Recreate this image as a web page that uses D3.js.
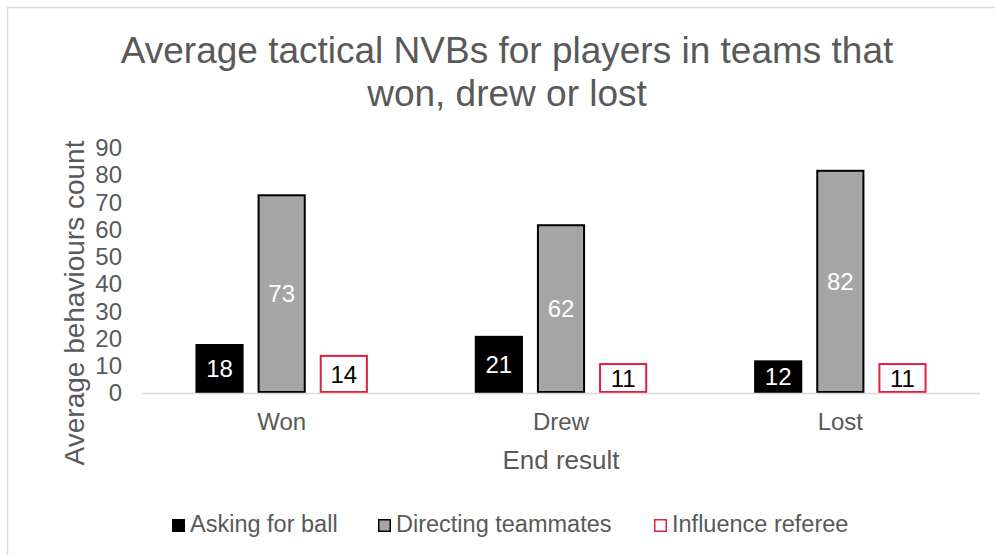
<!DOCTYPE html>
<html>
<head>
<meta charset="utf-8">
<script src="https://cdn.jsdelivr.net/npm/d3@7"></script>
<style>
  html, body { margin: 0; padding: 0; background: #fff; }
  svg { display: block; font-family: "Liberation Sans", Arial, sans-serif; }
</style>
</head>
<body>
<svg id="chart" width="995" height="555"></svg>
<script>
// Categories and series
const categories = ["Won", "Drew", "Lost"];
const seriesNames = ["Asking for ball", "Directing teammates", "Influence referee"];
const askingForBall = [18, 21, 12];
const directingTeammates = [73, 62, 82];
const influenceReferee = [14, 11, 11];
const yTicks = [0, 10, 20, 30, 40, 50, 60, 70, 80, 90];

const seriesValues = [askingForBall, directingTeammates, influenceReferee];
const seriesStyle = [
  { fill: "#000000", stroke: "#000000", label: "#ffffff", sw: 0 },
  { fill: "#a5a5a5", stroke: "#000000", label: "#ffffff", sw: 2 },
  { fill: "#ffffff", stroke: "#e0203f", label: "#000000", sw: 2 }
];

const svg = d3.select("#chart");
const textColor = "#595959";
const FONT = "Liberation Sans, Arial, sans-serif";

// chart frame
svg.append("rect")
  .attr("x", 7.5).attr("y", 7.5)
  .attr("width", 1000).attr("height", 560)
  .attr("fill", "#fff").attr("stroke", "#d9d9d9").attr("stroke-width", 1.5);

const plot = { left: 142, right: 980, top: 148, bottom: 393 };

const x0 = d3.scaleBand().domain(categories).range([plot.left, plot.right]).paddingInner(0).paddingOuter(0);
const x1 = d3.scaleBand().domain(d3.range(seriesNames.length))
  .range([0, x0.bandwidth()]).paddingInner(0.225).paddingOuter(0.86);
const y = d3.scaleLinear().domain([0, 90]).range([plot.bottom, plot.top]);

// title
const title = svg.append("text")
  .attr("text-anchor", "middle").attr("fill", textColor)
  .attr("font-size", 37);
title.append("tspan").attr("x", 507).attr("y", 63).text("Average tactical NVBs for players in teams that");
title.append("tspan").attr("x", 507).attr("y", 106).text("won, drew or lost");

// y axis (labels only)
const yAxis = d3.axisLeft(y).tickValues(yTicks).tickSize(0).tickPadding(20);
const yg = svg.append("g").attr("transform", `translate(${plot.left},0)`).call(yAxis);
yg.select(".domain").remove();
yg.selectAll("text").attr("fill", textColor).attr("font-size", 24).attr("font-family", FONT);

// bars
const groups = svg.append("g").selectAll("g")
  .data(categories)
  .join("g")
  .attr("transform", d => `translate(${x0(d)},0)`);

groups.each(function(cat, ci) {
  const g = d3.select(this);
  seriesValues.forEach((vals, si) => {
    const st = seriesStyle[si];
    const v = vals[ci];
    const inset = st.sw / 2;
    g.append("rect")
      .attr("x", x1(si) + inset)
      .attr("y", y(v) + inset)
      .attr("width", x1.bandwidth() - st.sw)
      .attr("height", y(0) - y(v) - st.sw)
      .attr("fill", st.fill)
      .attr("stroke", st.sw ? st.stroke : "none")
      .attr("stroke-width", st.sw);
    g.append("text")
      .attr("x", x1(si) + x1.bandwidth() / 2)
      .attr("y", (y(v) + y(0)) / 2)
      .attr("dy", "0.36em")
      .attr("text-anchor", "middle")
      .attr("font-size", 24)
      .attr("fill", st.label)
      .text(v);
  });
});

// baseline
svg.append("line")
  .attr("x1", plot.left).attr("x2", plot.right)
  .attr("y1", y(0) + 0.5).attr("y2", y(0) + 0.5)
  .attr("stroke", "#d9d9d9").attr("stroke-width", 1.5);

// x axis labels
const xAxis = d3.axisBottom(x0).tickSize(0).tickPadding(20);
const xg = svg.append("g").attr("transform", `translate(0,${plot.bottom})`).call(xAxis);
xg.select(".domain").remove();
xg.selectAll("text").attr("fill", textColor).attr("font-size", 24).attr("font-family", FONT);

// axis titles
svg.append("text")
  .attr("x", (plot.left + plot.right) / 2).attr("y", 469)
  .attr("text-anchor", "middle").attr("fill", textColor).attr("font-size", 26)
  .text("End result");

svg.append("text")
  .attr("transform", "translate(84,303) rotate(-90)")
  .attr("text-anchor", "middle").attr("fill", textColor).attr("font-size", 28)
  .text("Average behaviours count");

// legend
const legendX = [172, 378, 654];
const legend = svg.append("g");
seriesNames.forEach((name, i) => {
  const st = seriesStyle[i];
  const sw = i === 0 ? 0 : 1.5;
  legend.append("rect")
    .attr("x", legendX[i] + sw / 2).attr("y", 519 + sw / 2)
    .attr("width", 13 - sw).attr("height", 13 - sw)
    .attr("fill", st.fill)
    .attr("stroke", sw ? st.stroke : "none").attr("stroke-width", sw);
  legend.append("text")
    .attr("x", legendX[i] + 18).attr("y", 532)
    .attr("fill", textColor).attr("font-size", 23.5)
    .text(name);
});
</script>
</body>
</html>
